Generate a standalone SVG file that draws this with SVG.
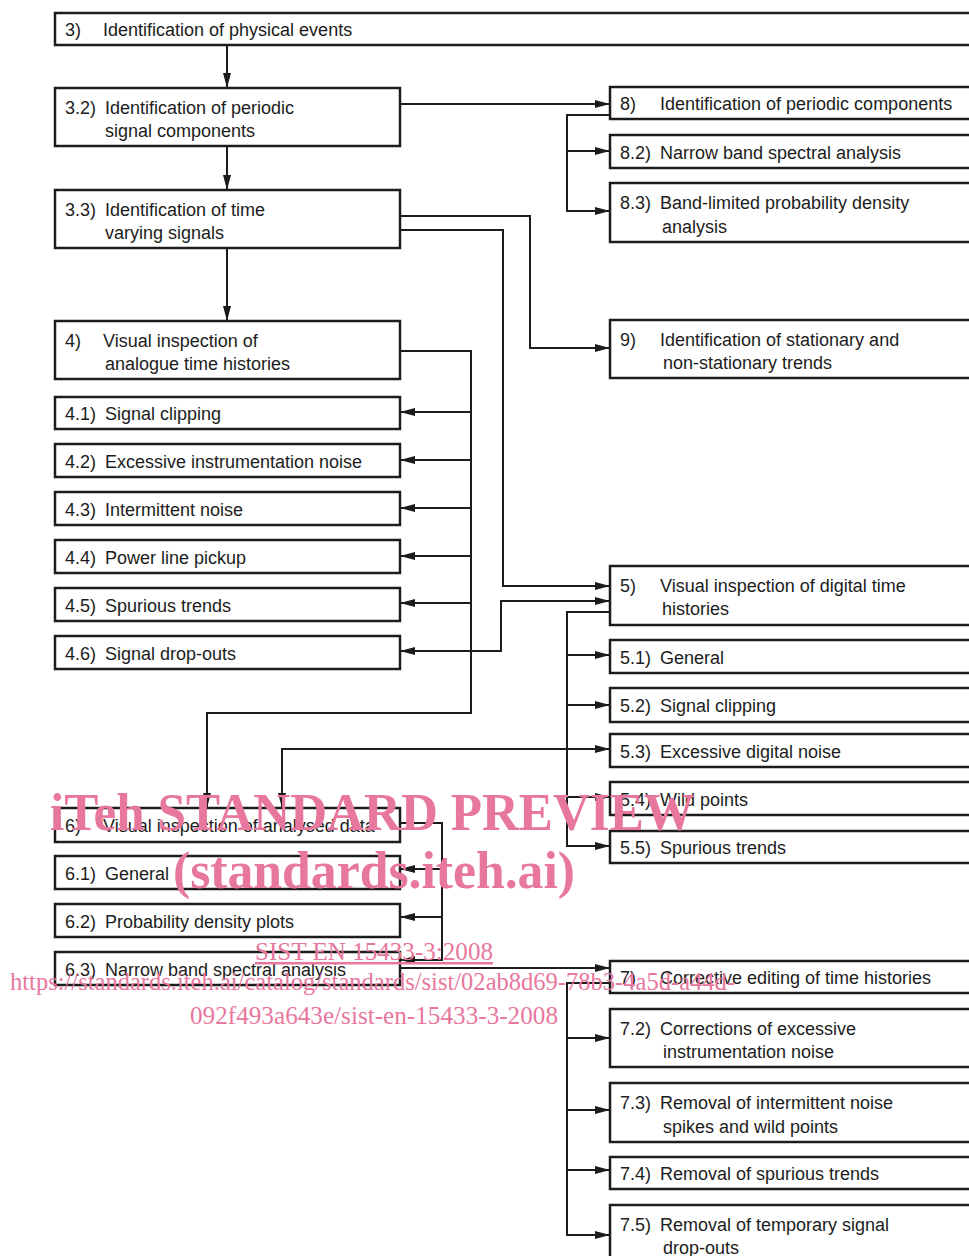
<svg xmlns="http://www.w3.org/2000/svg" width="969" height="1256" viewBox="0 0 969 1256">
<style>
.box{fill:#fff;stroke:#1c1c1c;stroke-width:2.5}
.t{font-family:"Liberation Sans",Arial,sans-serif;font-size:18px;fill:#1c1c1c}
.c{fill:none;stroke:#1c1c1c;stroke-width:2}
.wm{font-family:"Liberation Serif","Times New Roman",serif;fill:#e8779e}
.wb{font-weight:bold;font-size:52px}
.ws{font-size:25px}
</style>
<defs>
<marker id="ah" markerUnits="userSpaceOnUse" markerWidth="16" markerHeight="10" refX="15" refY="4.5" orient="auto">
<path d="M0,0.5 L15,4.5 L0,8.5 z" fill="#1c1c1c"/>
</marker>
</defs>
<rect width="969" height="1256" fill="#fff"/>

<g id="connectors" class="c">
<path d="M227 45 V88" marker-end="url(#ah)"/>
<path d="M227 146 V190" marker-end="url(#ah)"/>
<path d="M227 248 V321" marker-end="url(#ah)"/>
<path d="M400 104 H610" marker-end="url(#ah)"/>
<path d="M610 115 H567 V211 H610" marker-end="url(#ah)"/>
<path d="M567 151 H610" marker-end="url(#ah)"/>
<path d="M400 216 H530 V348 H610" marker-end="url(#ah)"/>
<path d="M400 230 H503 V586 H610" marker-end="url(#ah)"/>
<path d="M400 351 H471 V713 H207 V808" marker-end="url(#ah)"/>
<path d="M471 412 H400" marker-end="url(#ah)"/>
<path d="M471 460 H400" marker-end="url(#ah)"/>
<path d="M471 508 H400" marker-end="url(#ah)"/>
<path d="M471 556 H400" marker-end="url(#ah)"/>
<path d="M471 603 H400" marker-end="url(#ah)"/>
<path d="M471 651 H400" marker-end="url(#ah)"/>
<path d="M471 651 H501 V601 H610" marker-end="url(#ah)"/>
<path d="M610 612 H567 V846 H610" marker-end="url(#ah)"/>
<path d="M567 655 H610" marker-end="url(#ah)"/>
<path d="M567 705 H610" marker-end="url(#ah)"/>
<path d="M567 749 H610" marker-end="url(#ah)"/>
<path d="M567 797 H610" marker-end="url(#ah)"/>
<path d="M567 749 H282 V808" marker-end="url(#ah)"/>
<path d="M400 823 H442 V960 H400" marker-end="url(#ah)"/>
<path d="M442 869 H400" marker-end="url(#ah)"/>
<path d="M442 917 H400" marker-end="url(#ah)"/>
<path d="M400 968 H610" marker-end="url(#ah)"/>
<path d="M610 983 H567 V1235 H610" marker-end="url(#ah)"/>
<path d="M567 1038 H610" marker-end="url(#ah)"/>
<path d="M567 1110 H610" marker-end="url(#ah)"/>
<path d="M567 1170 H610" marker-end="url(#ah)"/>
</g>

<g id="n3"><rect class="box" x="55" y="13" width="960" height="32"/><text class="t" x="65" y="36">3)</text><text class="t" x="103" y="36">Identification of physical events</text></g>
<g id="n3_2"><rect class="box" x="55" y="88" width="345" height="58"/><text class="t" x="65" y="114">3.2)</text><text class="t" x="105" y="114">Identification of periodic</text><text class="t" x="105" y="137">signal components</text></g>
<g id="n3_3"><rect class="box" x="55" y="190" width="345" height="58"/><text class="t" x="65" y="216">3.3)</text><text class="t" x="105" y="216">Identification of time</text><text class="t" x="105" y="239">varying signals</text></g>
<g id="n4"><rect class="box" x="55" y="321" width="345" height="58"/><text class="t" x="65" y="347">4)</text><text class="t" x="103" y="347">Visual inspection of</text><text class="t" x="105" y="370">analogue time histories</text></g>
<g id="n4_1"><rect class="box" x="55" y="397" width="345" height="32"/><text class="t" x="65" y="420">4.1)</text><text class="t" x="105" y="420">Signal clipping</text></g>
<g id="n4_2"><rect class="box" x="55" y="444" width="345" height="33"/><text class="t" x="65" y="468">4.2)</text><text class="t" x="105" y="468">Excessive instrumentation noise</text></g>
<g id="n4_3"><rect class="box" x="55" y="492" width="345" height="33"/><text class="t" x="65" y="516">4.3)</text><text class="t" x="105" y="516">Intermittent noise</text></g>
<g id="n4_4"><rect class="box" x="55" y="540" width="345" height="33"/><text class="t" x="65" y="564">4.4)</text><text class="t" x="105" y="564">Power line pickup</text></g>
<g id="n4_5"><rect class="box" x="55" y="588" width="345" height="33"/><text class="t" x="65" y="612">4.5)</text><text class="t" x="105" y="612">Spurious trends</text></g>
<g id="n4_6"><rect class="box" x="55" y="636" width="345" height="33"/><text class="t" x="65" y="660">4.6)</text><text class="t" x="105" y="660">Signal drop-outs</text></g>
<g id="n6"><rect class="box" x="55" y="808" width="345" height="34"/><text class="t" x="65" y="832">6)</text><text class="t" x="103" y="832">Visual inspection of analysed data</text></g>
<g id="n6_1"><rect class="box" x="55" y="856" width="345" height="33"/><text class="t" x="65" y="880">6.1)</text><text class="t" x="105" y="880">General</text></g>
<g id="n6_2"><rect class="box" x="55" y="904" width="345" height="33"/><text class="t" x="65" y="928">6.2)</text><text class="t" x="105" y="928">Probability density plots</text></g>
<g id="n6_3"><rect class="box" x="55" y="952" width="345" height="33"/><text class="t" x="65" y="976">6.3)</text><text class="t" x="105" y="976">Narrow band spectral analysis</text></g>

<g id="n8"><rect class="box" x="610" y="87" width="400" height="32"/><text class="t" x="620" y="110">8)</text><text class="t" x="660" y="110">Identification of periodic components</text></g>
<g id="n8_2"><rect class="box" x="610" y="135" width="400" height="33"/><text class="t" x="620" y="159">8.2)</text><text class="t" x="660" y="159">Narrow band spectral analysis</text></g>
<g id="n8_3"><rect class="box" x="610" y="183" width="400" height="59"/><text class="t" x="620" y="209">8.3)</text><text class="t" x="660" y="209">Band-limited probability density</text><text class="t" x="662" y="233">analysis</text></g>
<g id="n9"><rect class="box" x="610" y="320" width="400" height="58"/><text class="t" x="620" y="346">9)</text><text class="t" x="660" y="346">Identification of stationary and</text><text class="t" x="663" y="369">non-stationary trends</text></g>
<g id="n5"><rect class="box" x="610" y="566" width="400" height="59"/><text class="t" x="620" y="592">5)</text><text class="t" x="660" y="592">Visual inspection of digital time</text><text class="t" x="662" y="615">histories</text></g>
<g id="n5_1"><rect class="box" x="610" y="640" width="400" height="33"/><text class="t" x="620" y="664">5.1)</text><text class="t" x="660" y="664">General</text></g>
<g id="n5_2"><rect class="box" x="610" y="688" width="400" height="34"/><text class="t" x="620" y="712">5.2)</text><text class="t" x="660" y="712">Signal clipping</text></g>
<g id="n5_3"><rect class="box" x="610" y="734" width="400" height="33"/><text class="t" x="620" y="758">5.3)</text><text class="t" x="660" y="758">Excessive digital noise</text></g>
<g id="n5_4"><rect class="box" x="610" y="782" width="400" height="33"/><text class="t" x="620" y="806">5.4)</text><text class="t" x="660" y="806">Wild points</text></g>
<g id="n5_5"><rect class="box" x="610" y="831" width="400" height="32"/><text class="t" x="620" y="854">5.5)</text><text class="t" x="660" y="854">Spurious trends</text></g>
<g id="n7"><rect class="box" x="610" y="961" width="400" height="32"/><text class="t" x="620" y="984">7)</text><text class="t" x="660" y="984">Corrective editing of time histories</text></g>
<g id="n7_2"><rect class="box" x="610" y="1009" width="400" height="58"/><text class="t" x="620" y="1035">7.2)</text><text class="t" x="660" y="1035">Corrections of excessive</text><text class="t" x="663" y="1058">instrumentation noise</text></g>
<g id="n7_3"><rect class="box" x="610" y="1083" width="400" height="59"/><text class="t" x="620" y="1109">7.3)</text><text class="t" x="660" y="1109">Removal of intermittent noise</text><text class="t" x="663" y="1133">spikes and wild points</text></g>
<g id="n7_4"><rect class="box" x="610" y="1157" width="400" height="32"/><text class="t" x="620" y="1180">7.4)</text><text class="t" x="660" y="1180">Removal of spurious trends</text></g>
<g id="n7_5"><rect class="box" x="610" y="1205" width="400" height="80"/><text class="t" x="620" y="1231">7.5)</text><text class="t" x="660" y="1231">Removal of temporary signal</text><text class="t" x="663" y="1254">drop-outs</text></g>

<g id="watermark">
<text class="wm wb" x="50" y="830" textLength="645" lengthAdjust="spacingAndGlyphs">iTeh STANDARD PREVIEW</text>
<text class="wm wb" x="173" y="888" textLength="402" lengthAdjust="spacingAndGlyphs">(standards.iteh.ai)</text>
<text class="wm ws" x="255" y="960" textLength="238" lengthAdjust="spacingAndGlyphs" text-decoration="underline">SIST EN 15433-3:2008</text>
<text class="wm ws" x="10" y="990" textLength="725" lengthAdjust="spacingAndGlyphs">https://standards.iteh.ai/catalog/standards/sist/02ab8d69-78b3-4a5d-a44d-</text>
<text class="wm ws" x="190" y="1024" textLength="368" lengthAdjust="spacingAndGlyphs">092f493a643e/sist-en-15433-3-2008</text>
</g>
</svg>
